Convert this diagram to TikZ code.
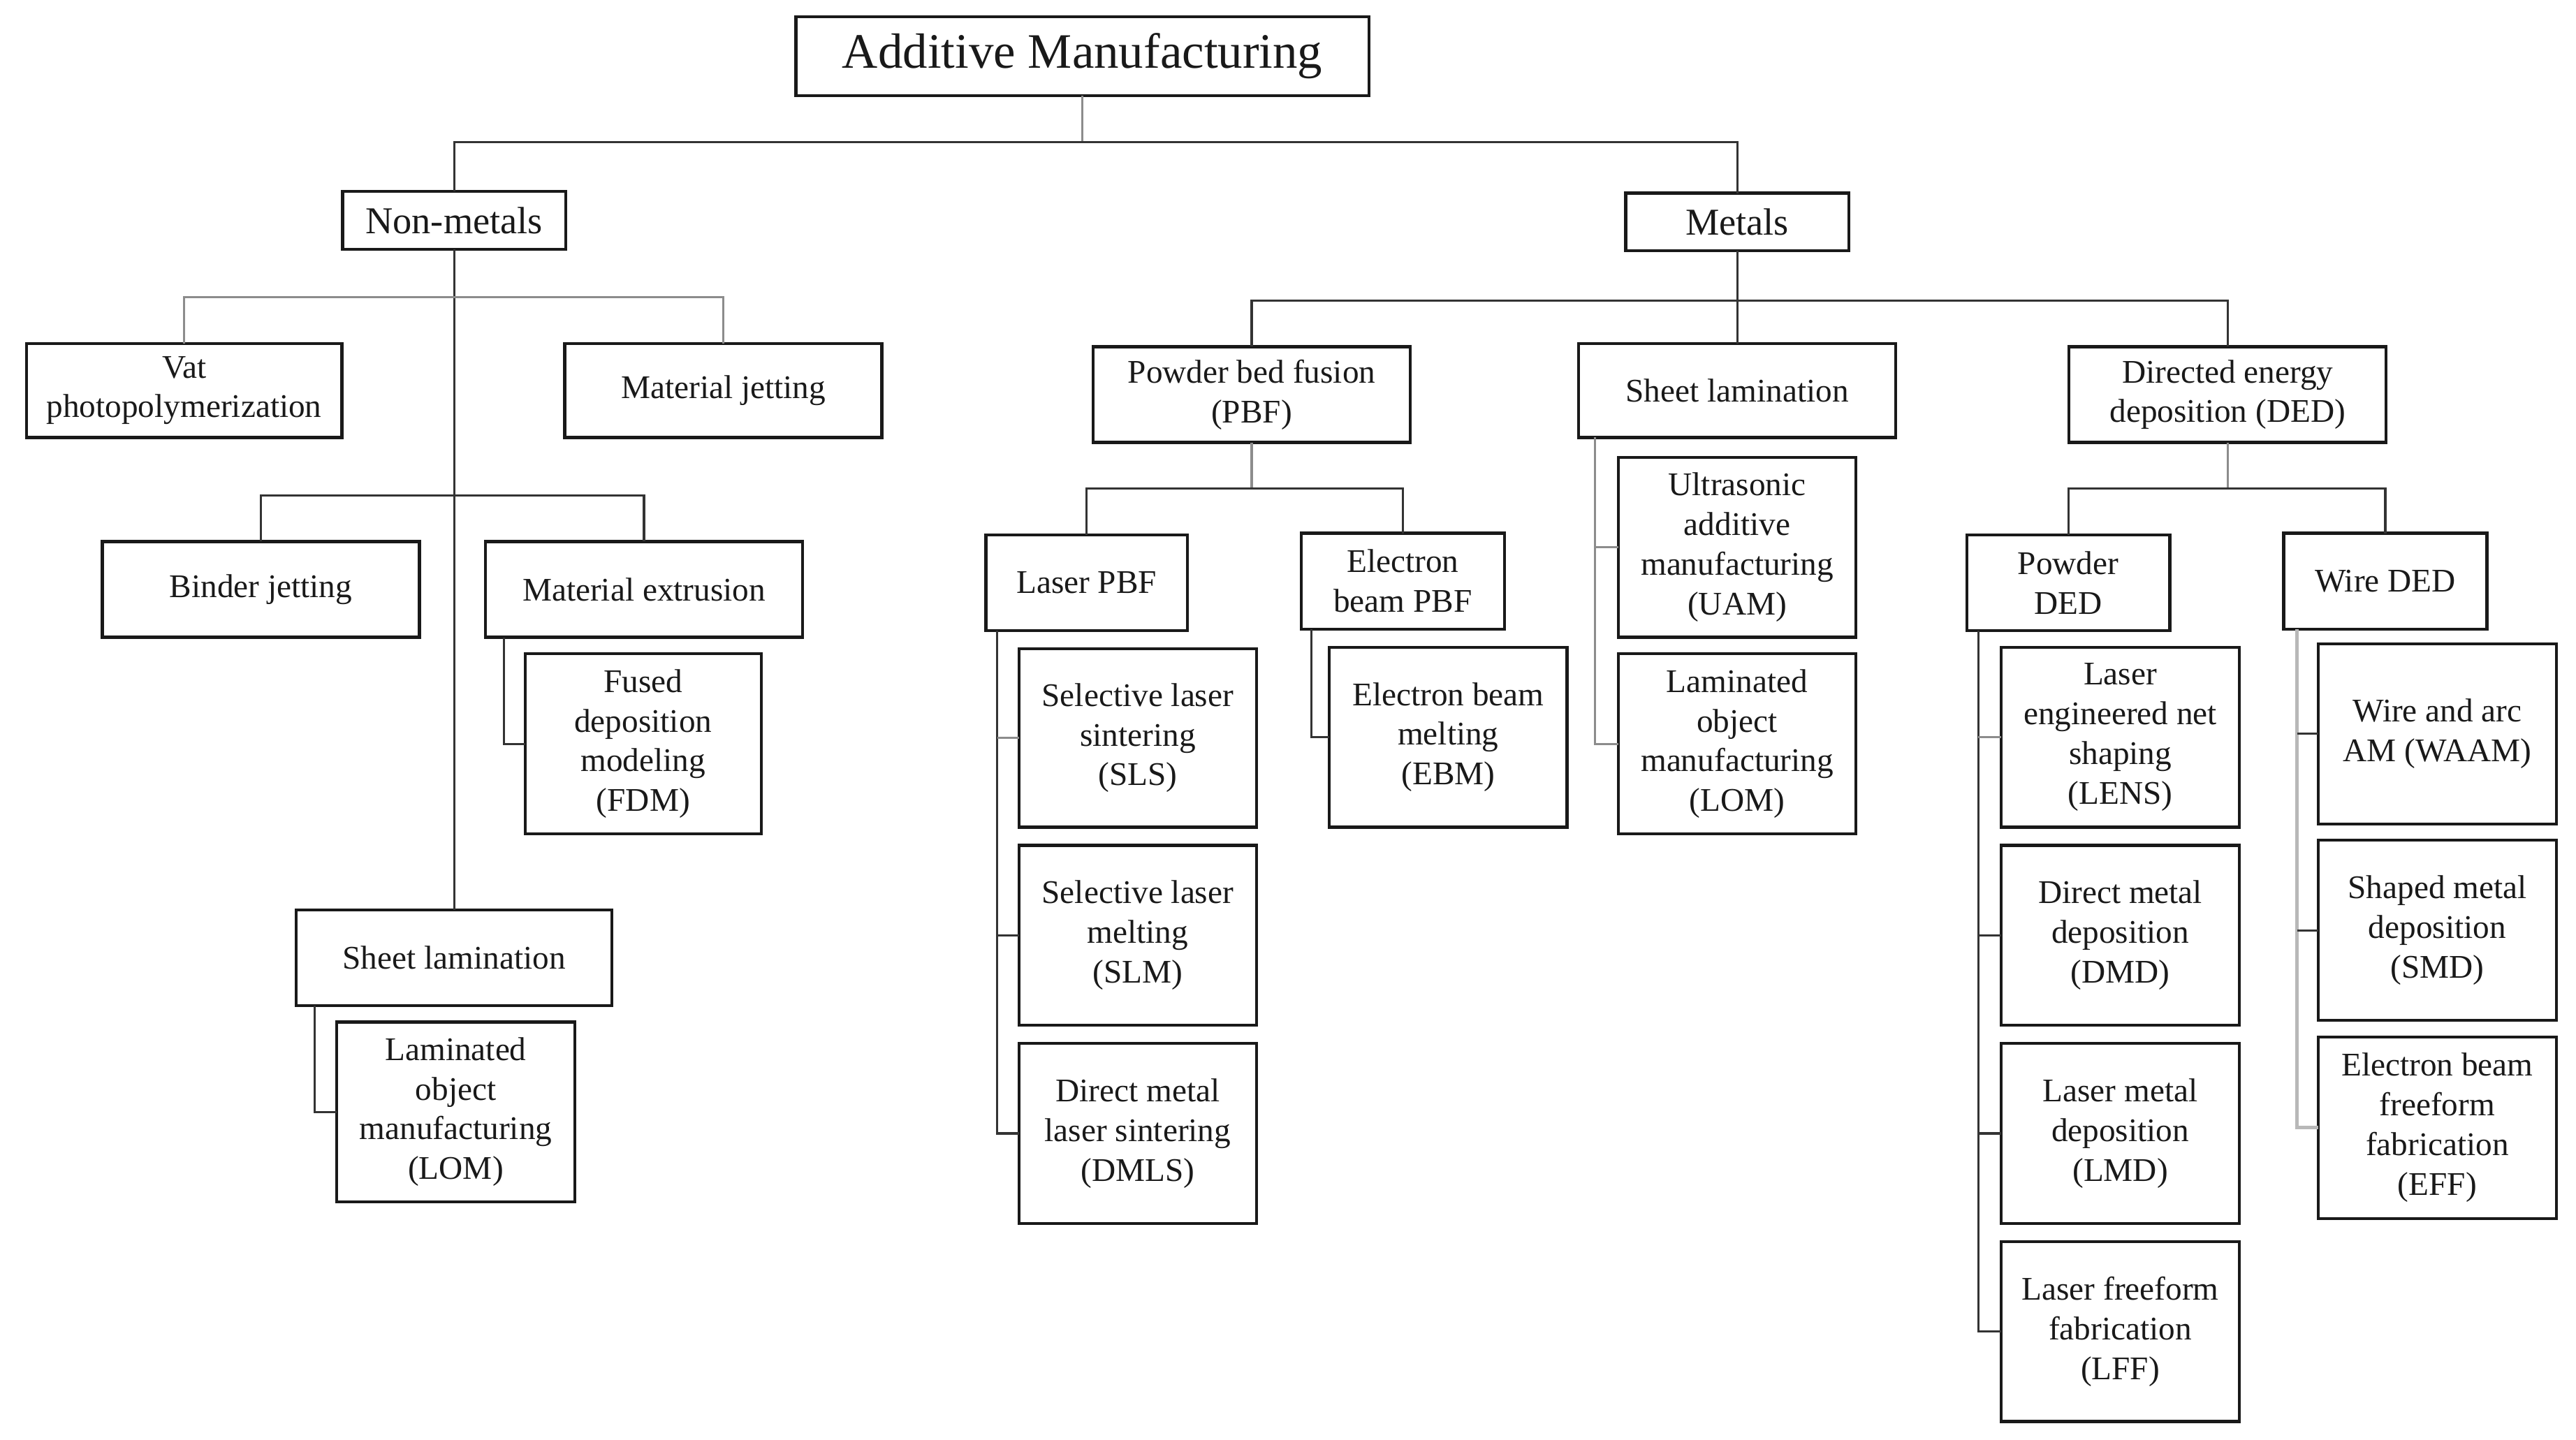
\documentclass[tikz,border=0pt]{standalone}
\usepackage{fontspec}
\setmainfont{Liberation Serif}
\tikzset{
  bx/.style 2 args={draw=black!90, line width=1.8pt, minimum width=#1pt, minimum height=#2pt,
    inner sep=0pt, outer sep=0pt, align=center, text=black!90, font=\fontsize{20}{24}\selectfont},
  ln/.style={line width=1.3pt, draw=black!80},
  gl/.style={line width=1.3pt, draw=black!45},
}
\begin{document}
\begin{tikzpicture}[x=1pt,y=-1pt]
\useasboundingbox[fill=white] (0,0) rectangle (1560,872);
% level 0/1
\node[bx={347}{48}, font=\fontsize{30}{36}\selectfont] (am) at (655.5,34) {Additive Manufacturing};
\node[bx={135}{35}, font=\fontsize{23}{27}\selectfont] (nm) at (275,133.5) {Non-metals};
\node[bx={135}{35}, font=\fontsize{23}{27}\selectfont] (met) at (1052,134.5) {Metals};
% non-metals
\node[bx={191}{57}] (vat) at (111.5,236.5) {Vat\\photopolymerization};
\node[bx={192}{57}] (mj) at (438,236.5) {Material jetting};
\node[bx={192}{58}] (bj) at (158,357) {Binder jetting};
\node[bx={192}{58}] (me) at (390,357) {Material extrusion};
\node[bx={143}{109}] (fdm) at (389.5,450.5) {Fused\\deposition\\modeling\\(FDM)};
\node[bx={191}{58}] (sla) at (275,580) {Sheet lamination};
\node[bx={144}{109}] (loma) at (276,673.5) {Laminated\\object\\manufacturing\\(LOM)};
% metals
\node[bx={192}{58}] (pbf) at (758,239) {Powder bed fusion\\(PBF)};
\node[bx={192}{57}] (slb) at (1052,236.5) {Sheet lamination};
\node[bx={192}{58}] (ded) at (1349,239) {Directed energy\\deposition (DED)};
\node[bx={122}{58}] (lpbf) at (658,353) {Laser PBF};
\node[bx={123}{58}] (ebpbf) at (849.5,352) {Electron\\beam PBF};
\node[bx={144}{108}] (sls) at (689,447) {Selective laser\\sintering\\(SLS)};
\node[bx={144}{109}] (slm) at (689,566.5) {Selective laser\\melting\\(SLM)};
\node[bx={144}{109}] (dmls) at (689,686.5) {Direct metal\\laser sintering\\(DMLS)};
\node[bx={144}{109}] (ebm) at (877,446.5) {Electron beam\\melting\\(EBM)};
\node[bx={144}{109}] (uam) at (1052,331.5) {Ultrasonic\\additive\\manufacturing\\(UAM)};
\node[bx={144}{109}] (lomb) at (1052,450.5) {Laminated\\object\\manufacturing\\(LOM)};
\node[bx={123}{58}] (pded) at (1252.5,353) {Powder\\DED};
\node[bx={123}{58}] (wded) at (1444.5,352) {Wire DED};
\node[bx={144}{109}] (lens) at (1284,446.5) {Laser\\engineered net\\shaping\\(LENS)};
\node[bx={144}{109}] (dmd) at (1284,566.5) {Direct metal\\deposition\\(DMD)};
\node[bx={144}{109}] (lmd) at (1284,686.5) {Laser metal\\deposition\\(LMD)};
\node[bx={144}{109}] (lff) at (1284,806.5) {Laser freeform\\fabrication\\(LFF)};
\node[bx={144}{109}] (waam) at (1476,444.5) {Wire and arc\\AM (WAAM)};
\node[bx={144}{109}] (smd) at (1476,563.5) {Shaped metal\\deposition\\(SMD)};
\node[bx={144}{110}] (eff) at (1476,683) {Electron beam\\freeform\\fabrication\\(EFF)};
% junction coordinates
\coordinate (j0) at (655.5,86);
\coordinate (j1) at (275,180);
\coordinate (j2) at (275,300);
\coordinate (j3) at (1052,182);
\coordinate (j4) at (758,296);
\coordinate (j5) at (1349,296);
\coordinate (meb) at ([xshift=11pt]me.south west);
\coordinate (slab) at ([xshift=11pt]sla.south west);
\coordinate (lpb) at ([xshift=7pt]lpbf.south west);
\coordinate (ebb) at ([xshift=6pt]ebpbf.south west);
\coordinate (slbb) at ([xshift=10pt]slb.south west);
\coordinate (pdb) at ([xshift=7pt]pded.south west);
\coordinate (wdb) at ([xshift=8pt]wded.south west);
% connectors
\draw[gl] (am.south) -- (j0);
\draw[ln] (nm.north) |- (j0) -| (met.north);
\draw[ln] (nm.south) -- (sla.north);
\draw[gl] (vat.north) |- (j1) -| (mj.north);
\draw[ln] (bj.north) |- (j2) -| (me.north);
\draw[ln] (meb) |- (fdm.west);
\draw[ln] (slab) |- (loma.west);
\draw[ln] (met.south) -- (slb.north);
\draw[ln] (pbf.north) |- (j3) -| (ded.north);
\draw[gl] (pbf.south) -- (j4);
\draw[ln] (lpbf.north) |- (j4) -| (ebpbf.north);
\draw[ln] (lpb) |- (dmls.west);
\draw[ln] (lpb) |- (slm.west);
\draw[gl] (lpb |- sls.west) -- (sls.west);
\draw[ln] (ebb) |- (ebm.west);
\draw[gl] (slbb) |- (lomb.west);
\draw[gl] (slbb) |- (uam.west);
\draw[gl] (ded.south) -- (j5);
\draw[ln] (pded.north) |- (j5) -| (wded.north);
\draw[ln] (pdb) |- (lff.west);
\draw[ln] (pdb |- lmd.west) -- (lmd.west);
\draw[ln] (pdb |- dmd.west) -- (dmd.west);
\draw[gl] (pdb |- lens.west) -- (lens.west);
\draw[line width=2pt, draw=black!28] (wdb) |- (eff.west);
\draw[ln] (wdb |- smd.west) -- (smd.west);
\draw[ln] (wdb |- waam.west) -- (waam.west);
\end{tikzpicture}
\end{document}
